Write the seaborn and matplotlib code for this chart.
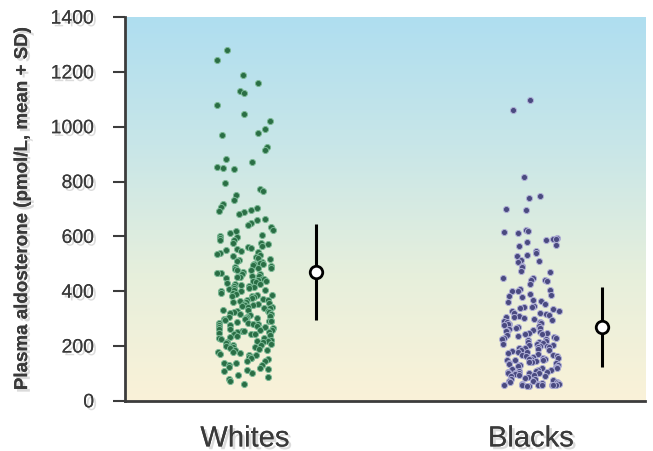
"""
Plasma aldosterone by group: strip plot of individual values
with the group mean and SD drawn beside each strip.
Saves out.png (653x452).
"""
import numpy as np
import pandas as pd
import matplotlib
matplotlib.use("Agg")
import matplotlib.pyplot as plt
import matplotlib.patheffects as pe
from matplotlib.colors import LinearSegmentedColormap
import seaborn as sns

GROUPS = ["Whites", "Blacks"]

# values (pmol/L), one per dot
WHITES = [
    1280, 1245, 1190, 1158, 1131, 1124, 1079, 1046, 1021, 992, 976, 969,
    927, 914, 881, 872, 853, 850, 847, 796, 774, 764, 751, 733, 719, 707,
    704, 695, 693, 689, 681, 662, 658, 647, 641, 633, 624, 619, 611, 606,
    601, 597, 593, 587, 585, 577, 574, 571, 565, 563, 557, 554, 551, 548,
    544, 541, 535, 533, 527, 524, 521, 516, 513, 511, 506, 503, 500, 498,
    494, 493, 489, 486, 485, 480, 477, 476, 471, 468, 467, 462, 461, 457,
    456, 452, 450, 449, 445, 444, 441, 437, 436, 433, 429, 427, 426, 423,
    419, 418, 415, 411, 410, 407, 405, 403, 401, 399, 395, 394, 391, 387,
    386, 383, 381, 377, 376, 373, 369, 368, 365, 361, 360, 357, 355, 353,
    351, 349, 347, 343, 342, 338, 337, 333, 332, 328, 326, 324, 323, 319,
    317, 316, 312, 311, 307, 305, 303, 302, 300, 299, 295, 293, 291, 291,
    287, 285, 283, 281, 279, 277, 275, 274, 270, 269, 265, 263, 261, 260,
    258, 256, 254, 252, 250, 249, 245, 243, 242, 239, 237, 234, 230, 229,
    226, 223, 219, 218, 215, 213, 210, 207, 205, 203, 201, 197, 196, 191,
    190, 185, 184, 179, 178, 173, 170, 167, 166, 161, 158, 155, 151, 147,
    145, 139, 137, 131, 129, 125, 119, 117, 111, 107, 103, 94, 87, 79, 71,
    62,
]
BLACKS = [
    1097, 1060, 816, 747, 740, 700, 696, 623, 620, 616, 614, 594, 591, 589,
    585, 580, 569, 565, 545, 541, 531, 528, 512, 509, 506, 493, 490, 475,
    470, 449, 447, 442, 440, 438, 427, 409, 406, 402, 399, 390, 385, 382,
    379, 367, 365, 362, 354, 347, 344, 341, 337, 334, 329, 327, 322, 321,
    317, 313, 311, 306, 304, 301, 298, 296, 293, 289, 287, 284, 281, 279,
    276, 272, 270, 267, 264, 262, 259, 256, 254, 251, 249, 247, 244, 242,
    239, 236, 234, 231, 229, 226, 224, 221, 219, 216, 213, 211, 208, 206,
    204, 202, 201, 200, 198, 196, 193, 191, 189, 186, 184, 181, 179, 177,
    174, 172, 169, 167, 165, 162, 160, 158, 156, 154, 152, 151, 150, 150,
    148, 146, 143, 141, 139, 137, 134, 132, 129, 127, 125, 122, 120, 118,
    116, 113, 111, 109, 107, 105, 104, 103, 102, 101, 100, 100, 98, 96, 93,
    91, 89, 86, 84, 81, 79, 76, 74, 72, 70, 68, 66, 64, 62, 61, 60, 59, 58,
    58, 57, 57, 56, 56, 55, 55,
]
GROUP_MEAN = [470, 270]
GROUP_SD = [175, 145]
Y_TICKS = [0, 200, 400, 600, 800, 1000, 1200, 1400]

DOT_FACE = {"Whites": "#2a6e45", "Blacks": "#4a4a80"}
DOT_EDGE = {"Whites": "#7ab894", "Blacks": "#aeaed6"}
TEXT_COLOR = "#3a3a3a"
AXIS_COLOR = "#3c3c3c"


def text_shadow():
    return [pe.withSimplePatchShadow(offset=(2, -2), shadow_rgbFace="#999999",
                                     alpha=0.35), pe.Normal()]


def main():
    sns.set_style("white")
    plt.rcParams["font.family"] = ["Liberation Sans", "DejaVu Sans"]

    df = pd.DataFrame({
        "group": ["Whites"] * len(WHITES) + ["Blacks"] * len(BLACKS),
        "value": WHITES + BLACKS,
    })

    fig = plt.figure(figsize=(6.53, 4.52), dpi=100)
    ax = fig.add_axes([0.191, 0.111, 0.797, 0.849])
    x_lim = (-0.42, 1.4)

    # soft blue-to-cream background
    bg = LinearSegmentedColormap.from_list(
        "bg", ["#faf2d8", "#e6efdc", "#c8e6e8", "#afdef0"])
    grad = np.linspace(0, 1, 256).reshape(-1, 1)
    ax.imshow(grad, cmap=bg, origin="lower", aspect="auto",
              extent=(x_lim[0], x_lim[1], 0, 1400), zorder=0)

    np.random.seed(11)
    for g in GROUPS:
        sns.stripplot(data=df[df["group"] == g], x="group", y="value",
                      order=GROUPS, color=DOT_FACE[g], jitter=0.1, size=4.4,
                      linewidth=0.7, edgecolor=DOT_EDGE[g], ax=ax, zorder=3)

    # mean +/- SD beside each strip
    ax.errorbar(np.arange(len(GROUPS)) + 0.25, GROUP_MEAN, yerr=GROUP_SD,
                fmt="o", color="black", ecolor="black", elinewidth=2.2,
                capsize=0, markersize=9, markerfacecolor="white",
                markeredgewidth=2, zorder=4)

    ax.set_xlim(*x_lim)
    ax.set_ylim(0, 1400)
    ax.set_yticks(Y_TICKS)
    ax.set_xlabel("")
    ax.set_ylabel("Plasma aldosterone (pmol/L, mean + SD)", fontsize=13.5,
                  fontweight="bold", color=TEXT_COLOR, labelpad=14)
    ax.yaxis.label.set_path_effects(text_shadow())

    sns.despine(ax=ax)
    for side in ["left", "bottom"]:
        ax.spines[side].set_color(AXIS_COLOR)
        ax.spines[side].set_linewidth(2)
        ax.spines[side].set_path_effects(
            [pe.SimplePatchShadow(offset=(2, -2), alpha=0.3), pe.Normal()])

    ax.tick_params(axis="y", length=9, width=1.5, color=AXIS_COLOR,
                   labelsize=14, labelcolor=TEXT_COLOR, pad=13, left=True)
    ax.tick_params(axis="x", length=0, labelsize=21, labelcolor=TEXT_COLOR,
                   pad=17)
    for lab in ax.get_yticklabels() + ax.get_xticklabels():
        lab.set_path_effects(text_shadow())

    fig.savefig("out.png", dpi=100)


if __name__ == "__main__":
    main()
